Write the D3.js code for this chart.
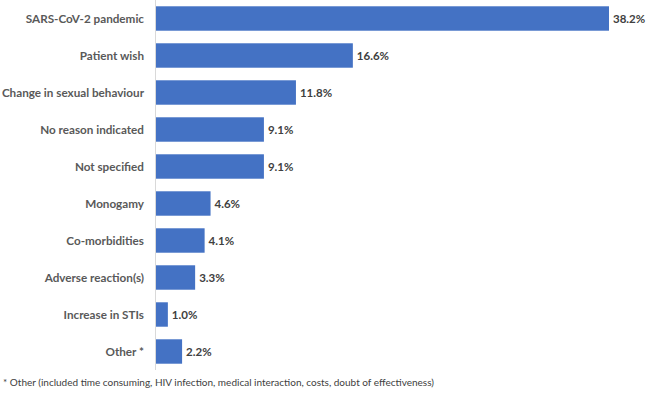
<!DOCTYPE html>
<html>
<head>
<meta charset="utf-8">
<script src="https://cdn.jsdelivr.net/npm/d3@7"></script>
<style>
  body { margin: 0; background: #fff; }
  .cat-label { font-family: Lato, sans-serif; font-weight: 700; font-size: 11.7px; fill: #595959; }
  .bar-label { font-family: Lato, sans-serif; font-weight: 700; font-size: 11.5px; fill: #404040; }
  .note { font-family: Lato, sans-serif; font-size: 10px; fill: #404040; }
</style>
</head>
<body>
<div id="chart"></div>
<script>
// reasons for discontinuation
const categories = [
    "SARS-CoV-2 pandemic", "Patient wish", "Change in sexual behaviour",
    "No reason indicated", "Not specified", "Monogamy", "Co-morbidities",
    "Adverse reaction(s)", "Increase in STIs", "Other *"
];
const percentages = [38.2, 16.6, 11.8, 9.1, 9.1, 4.6, 4.1, 3.3, 1.0, 2.2];
const footnote = "* Other (included time consuming, HIV infection, medical interaction, costs, doubt of effectiveness)";

const width = 646, height = 397;
const margin = { top: 0, left: 156, right: 0 };
const plotBottom = 370;

const data = categories.map((c, i) => ({ name: c, value: percentages[i] }));

const svg = d3.select("#chart")
    .append("svg")
    .attr("width", width)
    .attr("height", height);

const xScale = d3.scaleLinear()
    .domain([0, 38.2])
    .range([margin.left, 609]);

const yScale = d3.scaleBand()
    .domain(categories)
    .range([margin.top, plotBottom])
    .paddingInner(0.34)
    .paddingOuter(0.17);

// bars
svg.selectAll(".bar")
    .data(data)
    .enter()
    .append("rect")
    .attr("class", "bar")
    .attr("x", xScale(0))
    .attr("y", d => yScale(d.name))
    .attr("width", d => xScale(d.value) - xScale(0))
    .attr("height", yScale.bandwidth())
    .attr("fill", "#4472C4");

// vertical axis line
svg.append("line")
    .attr("x1", xScale(0) - 0.5).attr("x2", xScale(0) - 0.5)
    .attr("y1", 0).attr("y2", plotBottom)
    .attr("stroke", "#d9d9d9")
    .attr("stroke-width", 1);

// category labels
svg.selectAll(".cat-label")
    .data(data)
    .enter()
    .append("text")
    .attr("class", "cat-label")
    .attr("x", xScale(0) - 12)
    .attr("y", d => yScale(d.name) + yScale.bandwidth() / 2)
    .attr("dy", "0.35em")
    .attr("text-anchor", "end")
    .text(d => d.name);

// value labels
svg.selectAll(".bar-label")
    .data(data)
    .enter()
    .append("text")
    .attr("class", "bar-label")
    .attr("x", d => xScale(d.value) + 4)
    .attr("y", d => yScale(d.name) + yScale.bandwidth() / 2)
    .attr("dy", "0.35em")
    .text(d => d.value.toFixed(1) + "%");

svg.append("text")
    .attr("class", "note")
    .attr("x", 3)
    .attr("y", 386)
    .text(footnote);
</script>
</body>
</html>
